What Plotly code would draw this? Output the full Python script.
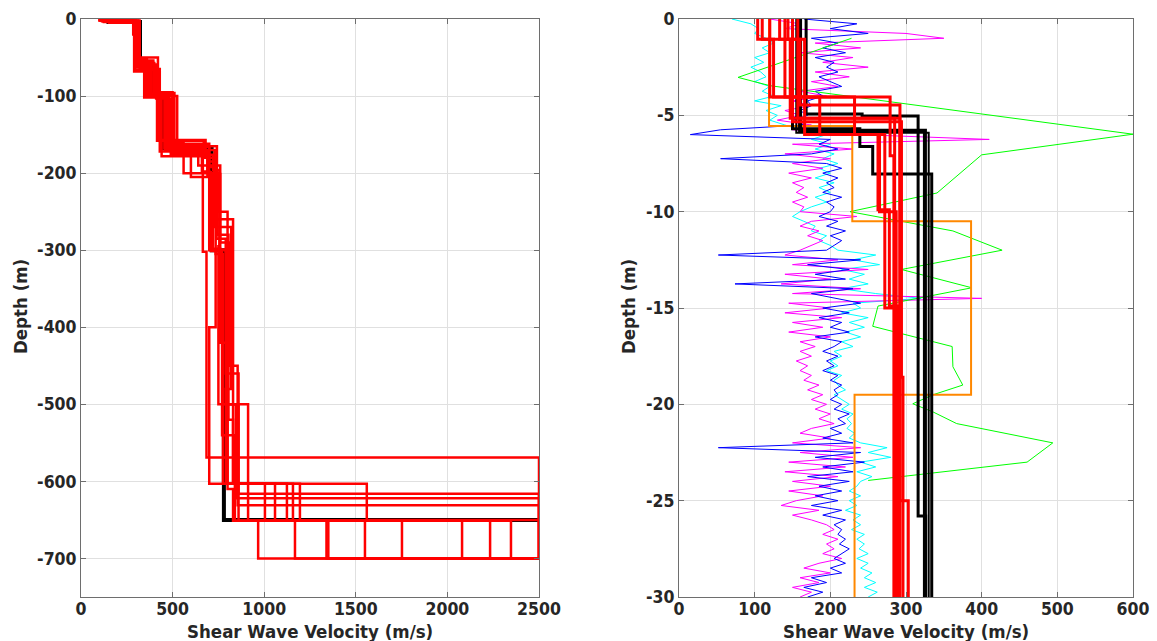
import numpy as np
import plotly.graph_objects as go

# ---------------- LEFT PANEL DATA (deep profiles) ----------------
# each profile: interface depths (m, positive down) and layer velocities (m/s)
left_black_interfaces = [4, 58, 100, 168, 300, 650]
left_black_vels = [150, 322, 385, 442, 713, 780, 2600]

left_red_interfaces = [
    [2, 20, 62, 101, 157, 172, 302, 569],
    [3, 55, 98, 160, 200, 300, 400, 603, 650],
    [4, 50, 95, 165, 200, 250, 500, 616],
    [2, 65, 100, 175, 205, 300, 500, 622],
    [3, 60, 97, 170, 190, 290, 450, 631],
    [5, 52, 100, 178, 200, 305, 603, 651],
    [3, 68, 102, 172, 203, 280, 520, 603, 651],
    [4, 57, 96, 162, 185, 270, 480, 603, 651],
    [2, 63, 99, 168, 198, 298, 420, 603, 651],
    [3, 59, 103, 176, 196, 295, 500, 603, 651],
    [4, 61, 98, 158, 180, 260, 500, 651],
    [2, 54, 101, 166, 192, 285, 460, 651],
    [5, 66, 97, 174, 199, 301, 540, 651],
    [3, 58, 100, 170, 201, 299, 610, 651],
]
left_red_vels = [
    [105, 285, 300, 352, 420, 680, 665, 685, 2500],
    [130, 305, 385, 470, 560, 720, 735, 700, 1560, 2500],
    [150, 310, 420, 500, 742, 750, 800, 860, 2500],
    [100, 320, 430, 525, 600, 700, 790, 845, 2500],
    [140, 295, 370, 460, 640, 760, 810, 855, 2500],
    [160, 315, 360, 440, 700, 735, 775, 1004, 967],
    [120, 290, 345, 430, 690, 745, 805, 830, 1059, 1168],
    [170, 310, 400, 510, 700, 730, 820, 790, 1124, 1340],
    [110, 300, 380, 455, 660, 700, 760, 800, 1157, 1350],
    [145, 318, 410, 490, 720, 755, 750, 830, 1195, 1550],
    [125, 300, 360, 415, 670, 725, 830, 912, 1752],
    [135, 312, 395, 480, 700, 740, 790, 860, 2080],
    [155, 295, 415, 500, 690, 710, 770, 840, 2233],
    [115, 305, 375, 470, 730, 760, 800, 830, 2347],
]
left_red_bottom = 700
left_red_close_vel = 2500

# ---------------- RIGHT PANEL DATA (shallow profiles) ----------------
trace_depth_step = 0.25
blue_vs = [165, 235, 200, 250, 175, 210, 190, 220, 180, 205, 195, 210, 185, 200, 215, 180,
           190, 170, 175, 160, 170, 150, 165, 55, 15, 200, 185, 210, 175, 55, 195, 215,
           190, 210, 195, 205, 190, 215, 195, 205, 200, 185, 210, 195, 220, 200, 215, 205,
           195, 52, 240, 170, 225, 180, 220, 74, 230, 175, 210, 240, 190, 225, 185, 215,
           200, 225, 180, 215, 205, 190, 210, 195, 205, 190, 210, 200, 215, 205, 210, 200,
           215, 205, 225, 210, 220, 200, 215, 190, 230, 52, 240, 180, 245, 190, 230, 170,
           225, 185, 215, 180, 210, 175, 215, 190, 220, 205, 215, 210, 220, 212, 225, 215,
           205, 220, 200, 215, 175, 195, 165, 190, 170]
magenta_vs = [120, 160, 140, 300, 350, 180, 240, 160, 230, 190, 250, 180, 225, 175, 210, 160,
              195, 150, 175, 140, 160, 130, 175, 150, 240, 410, 150, 230, 140, 200, 150, 190,
              145, 175, 150, 165, 155, 170, 150, 165, 160, 235, 175, 160, 185, 170, 190, 175,
              160, 140, 210, 150, 250, 140, 200, 135, 240, 150, 400, 145, 200, 140, 215, 150,
              190, 145, 200, 160, 180, 160, 175, 155, 170, 160, 175, 165, 185, 170, 190, 175,
              195, 180, 200, 185, 205, 175, 160, 200, 150, 240, 160, 230, 145, 220, 140, 210,
              150, 200, 145, 190, 155, 135, 185, 150, 175, 195, 205, 190, 210, 195, 205, 190,
              215, 185, 165, 200, 160, 185, 150, 175, 160]
cyan_vs = [70, 95, 105, 100, 115, 125, 110, 120, 100, 112, 95, 108, 115, 100, 120, 110,
           125, 100, 135, 115, 130, 120, 140, 160, 195, 175, 200, 180, 205, 190, 210, 185,
           200, 180, 205, 185, 200, 180, 195, 175, 160, 150, 165, 180, 175, 195, 185, 200,
           210, 260, 230, 265, 215, 245, 225, 250, 215, 260, 320, 230, 240, 215, 250, 225,
           245, 220, 240, 215, 230, 205, 215, 200, 210, 195, 215, 205, 210, 220, 205, 215,
           225, 215, 230, 222, 228, 222, 232, 225, 240, 275, 250, 280, 240, 260, 235, 255,
           240, 235, 225, 240, 225, 235, 220, 240, 230, 240, 228, 245, 235, 245, 238, 250,
           235, 250, 240, 255, 245, 260, 245, 262, 250]

green_vs = [228, 78, 120, 600, 400, 341, 226, 362, 427, 294, 387, 263, 256, 361, 362, 375,
            336, 309, 336, 367, 494, 460, 283, 250]
green_depth = [1.0, 3.03, 3.46, 5.98, 7.05, 9.03, 10.0, 11.0, 12.0, 13.0, 13.95, 14.9, 15.95,
               17.0, 18.05, 19.0, 19.5, 19.97, 20.4, 21.0, 22.0, 23.0, 23.8, 23.95]

orange_interfaces = [5.55, 10.5, 19.5]
orange_vels = [119, 229, 386, 232]

right_black_interfaces = [[5.8], [4.93, 5.03, 25.8], [5.7, 6.62, 8.05], [5.9]]
right_black_vels = [[160, 325], [168, 242, 316, 326], [150, 239, 256, 334], [155, 330]]
right_black_widths = [4, 3, 3, 2]

right_red_interfaces = [[1.05, 5.15], [1.05, 4.05, 7.1], [4.05, 6.0, 10.0], [1.05, 4.46, 25.0],
                        [4.05, 6.0, 15.0], [5.33, 18.6], [1.05, 6.0, 9.9, 14.9], [5.15]]
right_red_vels = [[104, 147, 292], [110, 125, 279, 284], [120, 186, 265, 287], [133, 160, 292, 303],
                  [140, 232, 272, 290], [150, 294, 296], [144, 166, 263, 278, 289], [157, 285]]
right_bottom = 30

left_xticks = [0, 500, 1000, 1500, 2000, 2500]
left_yticks = [0, -100, -200, -300, -400, -500, -600, -700]
right_xticks = [0, 100, 200, 300, 400, 500, 600]
right_yticks = [0, -5, -10, -15, -20, -25, -30]


def step_path(interfaces, vels, bottom, close_vel=None):
    xs, ys = [vels[0]], [0.0]
    for z, va, vb in zip(interfaces, vels[:-1], vels[1:]):
        xs += [va, vb]
        ys += [-z, -z]
    xs.append(vels[-1])
    ys.append(-bottom)
    if close_vel is not None:
        xs.append(close_vel)
        ys.append(-bottom)
    return xs, ys


fig = go.Figure()

# left panel
xs, ys = step_path(left_black_interfaces, left_black_vels, 760)
fig.add_trace(go.Scatter(x=xs, y=ys, mode="lines", line=dict(color="black", width=4),
                         xaxis="x", yaxis="y", hoverinfo="skip"))
for itf, vel in zip(left_red_interfaces, left_red_vels):
    xs, ys = step_path(itf, vel, left_red_bottom, left_red_close_vel)
    fig.add_trace(go.Scatter(x=xs, y=ys, mode="lines", line=dict(color="#ff0000", width=2.5),
                             xaxis="x", yaxis="y", hoverinfo="skip"))

# right panel
trace_depth = -np.arange(len(blue_vs)) * trace_depth_step
for vals, col in [(cyan_vs, "#00ffff"), (magenta_vs, "#ff00ff"), (blue_vs, "#0000ff")]:
    fig.add_trace(go.Scatter(x=vals, y=trace_depth, mode="lines", line=dict(color=col, width=1),
                             xaxis="x2", yaxis="y2", hoverinfo="skip"))
fig.add_trace(go.Scatter(x=green_vs, y=[-d for d in green_depth], mode="lines",
                         line=dict(color="#00ff00", width=1), xaxis="x2", yaxis="y2", hoverinfo="skip"))
xs, ys = step_path(orange_interfaces, orange_vels, right_bottom)
fig.add_trace(go.Scatter(x=xs, y=ys, mode="lines", line=dict(color="#ff8800", width=2),
                         xaxis="x2", yaxis="y2", hoverinfo="skip"))
for itf, vel, w in zip(right_black_interfaces, right_black_vels, right_black_widths):
    xs, ys = step_path(itf, vel, right_bottom)
    fig.add_trace(go.Scatter(x=xs, y=ys, mode="lines", line=dict(color="black", width=w),
                             xaxis="x2", yaxis="y2", hoverinfo="skip"))
for itf, vel in zip(right_red_interfaces, right_red_vels):
    xs, ys = step_path(itf, vel, right_bottom)
    fig.add_trace(go.Scatter(x=xs, y=ys, mode="lines", line=dict(color="#ff0000", width=3),
                             xaxis="x2", yaxis="y2", hoverinfo="skip"))

W, H = 1157, 641
FONT = "DejaVu Sans Condensed, DejaVu Sans, sans-serif"
tickfont = dict(family=FONT, size=17.5, color="#262626", weight="bold")
axis_common = dict(showline=True, linecolor="#6e6e6e", linewidth=1, mirror="ticks",
                   ticks="inside", ticklen=5, tickcolor="#6e6e6e", showgrid=True,
                   gridcolor="#e0e0e0", gridwidth=1, zeroline=False, tickfont=tickfont,
                   automargin=False)


def labels(vals):
    return [str(v) for v in vals]


ytop = 1 - 19 / H
ybot = 1 - 597 / H
fig.update_layout(
    width=W, height=H, margin=dict(l=0, r=0, t=0, b=0, autoexpand=False),
    paper_bgcolor="white", plot_bgcolor="white", showlegend=False,
    xaxis=dict(domain=[81 / W, 539 / W], range=[0, 2500], tickvals=left_xticks,
               ticktext=labels(left_xticks), anchor="y", ticklabelstandoff=-4, **axis_common),
    yaxis=dict(domain=[ybot, ytop], range=[-750, 0], tickvals=left_yticks,
               ticktext=labels(left_yticks), anchor="x", **axis_common),
    xaxis2=dict(domain=[679 / W, 1133 / W], range=[0, 600], tickvals=right_xticks,
                ticktext=labels(right_xticks), anchor="y2", ticklabelstandoff=-4, **axis_common),
    yaxis2=dict(domain=[ybot, ytop], range=[-30, 0], tickvals=right_yticks,
                ticktext=labels(right_yticks), anchor="x2", **axis_common),
)

title_font = dict(family=FONT, size=18.5, color="#262626", weight="bold")
for xc, text in [(310 / W, "Shear Wave Velocity (m/s)"), (906 / W, "Shear Wave Velocity (m/s)")]:
    fig.add_annotation(x=xc, y=1 - 641 / H, xref="paper", yref="paper", text=text, showarrow=False,
                       font=title_font, xanchor="center", yanchor="bottom", yshift=-3)
for xc in [20 / W, 628 / W]:
    fig.add_annotation(x=xc, y=1 - 307 / H, xref="paper", yref="paper", text="Depth (m)", showarrow=False,
                       font=title_font, textangle=-90, xanchor="center", yanchor="middle")

fig.write_html("out.html")
